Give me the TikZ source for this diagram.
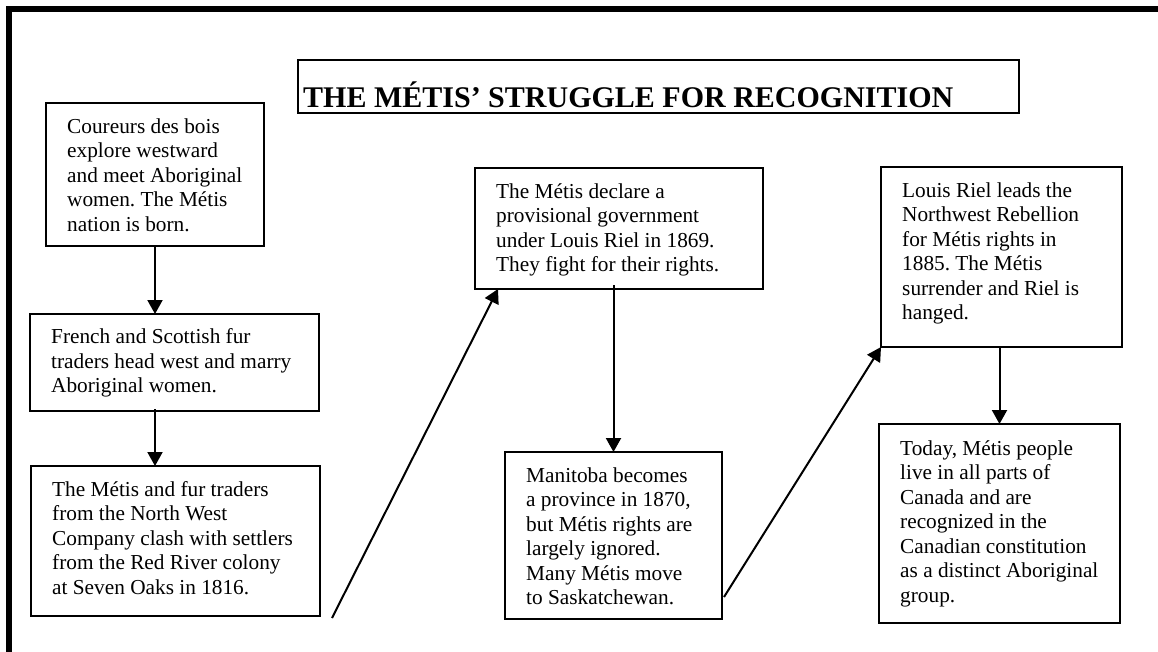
\documentclass[tikz,border=0pt]{standalone}
\usepackage{fontspec}
\setmainfont{Liberation Serif}
\usetikzlibrary{arrows.meta}
\newcommand{\fstrut}{\rule{0pt}{20pt}}
\frenchspacing
\begin{document}
\begin{tikzpicture}[x=1pt,y=-1pt,
  box/.style={draw, line width=2pt, inner sep=0pt, outer sep=0pt},
  txt/.style={anchor=north west, inner sep=0pt, align=left,
              font=\fontsize{21.3}{24.5}\selectfont\frenchspacing},
  arr/.style={line width=2pt, -{Triangle[length=14pt,width=15pt]}},
  ln/.style={line width=2pt}]
\useasboundingbox (0,0) rectangle (1158,651);
% outer frame (top and left edges)
\draw[line width=6pt] (8.5,655) -- (8.5,9) -- (1158,9);
% title
\node[box, minimum width=721, minimum height=53] (tb) at (658.5,86.5) {};
\node[anchor=base west, inner sep=0pt, font=\fontsize{30}{34}\selectfont\bfseries] (title) at (303,107) {THE MÉTIS’ STRUGGLE FOR RECOGNITION};
% boxes
\node[box, minimum width=218, minimum height=143] (b1) at (155,174.5) {};
\node[box, minimum width=289, minimum height=97] (b2) at (174.5,362.5) {};
\node[box, minimum width=289, minimum height=150] (b3) at (175.5,541) {};
\node[box, minimum width=288, minimum height=121] (b4) at (619,228.5) {};
\node[box, minimum width=217, minimum height=167] (b5) at (613.5,535.5) {};
\node[box, minimum width=241, minimum height=180] (b6) at (1001.5,257) {};
\node[box, minimum width=241, minimum height=199] (b7) at (999.5,523.5) {};
% texts
\node[txt] (t1) at (67,113) {\fstrut Coureurs des bois\\explore westward\\and meet Aboriginal\\women. The Métis\\nation is born.};
\node[txt] (t2) at (51,323.5) {\fstrut French and Scottish fur\\traders head west and marry\\Aboriginal women.};
\node[txt] (t3) at (52,476) {\fstrut The Métis and fur traders\\from the North West\\Company clash with settlers\\from the Red River colony\\at Seven Oaks in 1816.};
\node[txt] (t4) at (496,178) {\fstrut The Métis declare a\\provisional government\\under Louis Riel in 1869.\\They fight for their rights.};
\node[txt] (t5) at (526,462) {\fstrut Manitoba becomes\\a province in 1870,\\but Métis rights are\\largely ignored.\\Many Métis move\\to Saskatchewan.};
\node[txt] (t6) at (902,177) {\fstrut Louis Riel leads the\\Northwest Rebellion\\for Métis rights in\\1885. The Métis\\surrender and Riel is\\hanged.};
\node[txt] (t7) at (900,435) {\fstrut Today, Métis people\\live in all parts of\\Canada and are\\recognized in the\\Canadian constitution\\as a distinct Aboriginal\\group.};
% connectors
\coordinate (c1) at (332,618);
\coordinate (c2) at (724,597);
\draw[arr] (b1.south) -- (b1.south |- b2.north);
\draw[arr] ([yshift=2pt]b1.south |- b2.south) -- (b1.south |- b3.north);
\draw[arr] (c1) -- ([xshift=23pt]b4.south west);
\draw[arr] ([yshift=4pt]b5.north |- b4.south) -- (b5.north);
\draw[arr] (c2) -- (b6.south west);
\draw[arr] (b7.north |- b6.south) -- (b7.north);
\end{tikzpicture}
\end{document}
